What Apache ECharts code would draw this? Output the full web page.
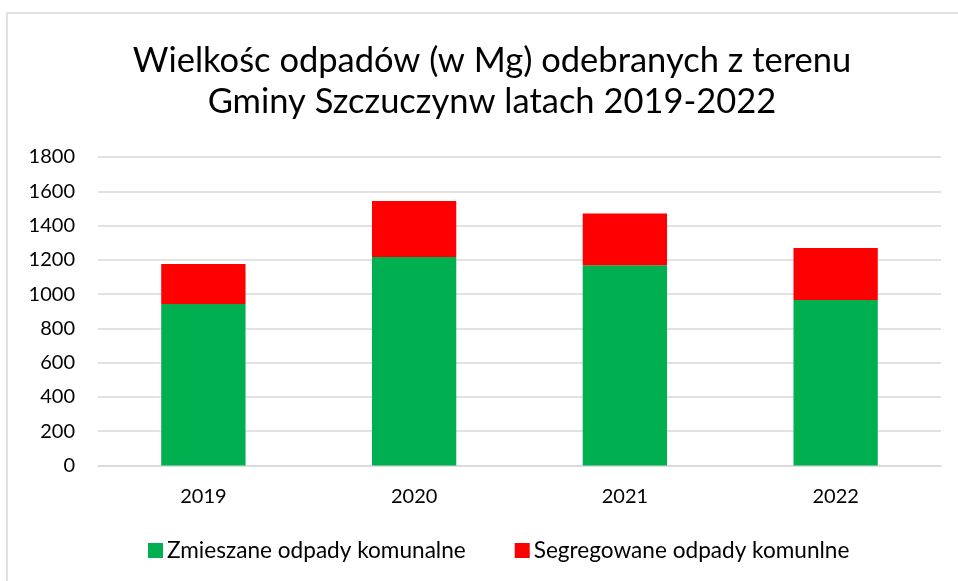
<!DOCTYPE html>
<html>
<head>
<meta charset="utf-8">
<script src="https://cdn.jsdelivr.net/npm/echarts@6/dist/echarts.min.js"></script>
<style>html,body{margin:0;padding:0;background:#fff}#c{width:958px;height:581px}</style>
</head>
<body>
<div id="c"></div>
<script>
const titleText = 'Wielkośc odpadów (w Mg) odebranych z terenu\nGminy Szczuczynw latach 2019-2022';
const categories = ['2019', '2020', '2021', '2022'];
const seriesNames = ['Zmieszane odpady komunalne', 'Segregowane odpady komunlne'];
const mixedWaste = [943, 1216, 1168, 965];
const segregatedWaste = [232, 328, 302, 304];
const yTicks = { min: 0, max: 1800, interval: 200 };

const FONT = 'Lato';
const chart = echarts.init(document.getElementById('c'), null, { renderer: 'canvas' });
chart.setOption({
  backgroundColor: '#fff',
  animation: false,
  textStyle: { fontFamily: FONT },
  graphic: [{
    type: 'rect',
    shape: { x: 7, y: 13, width: 1000, height: 1000 },
    style: { fill: 'none', stroke: '#d9d9d9', lineWidth: 1.5 },
    silent: true
  }],
  title: {
    text: titleText,
    left: 487,
    top: 35,
    textAlign: 'center',
    textStyle: { fontFamily: FONT, fontSize: 34.5, fontWeight: 'normal', color: '#000', lineHeight: 41 }
  },
  legend: {
    bottom: 14,
    left: 143,
    icon: 'rect',
    itemWidth: 15,
    itemHeight: 15,
    itemGap: 49,
    textStyle: { fontFamily: FONT, fontSize: 22.6, color: '#000', padding: [0, 0, 0, -1] },
    data: seriesNames
  },
  grid: { left: 98, right: 17, top: 157, bottom: 115.5, containLabel: false },
  xAxis: {
    type: 'category',
    data: categories,
    axisLine: { lineStyle: { color: '#d9d9d9', width: 1.5 } },
    axisTick: { show: false },
    axisLabel: { fontFamily: FONT, fontSize: 20, color: '#000', margin: 21 }
  },
  yAxis: {
    type: 'value',
    min: yTicks.min,
    max: yTicks.max,
    interval: yTicks.interval,
    axisLine: { show: false },
    axisTick: { show: false },
    splitLine: { lineStyle: { color: '#d9d9d9', width: 1.5 } },
    axisLabel: { fontFamily: FONT, fontSize: 20, color: '#000', margin: 23, formatter: v => String(v) }
  },
  series: [
    { name: seriesNames[0], type: 'bar', stack: 'total', barWidth: '40%', data: mixedWaste, itemStyle: { color: '#00b050' } },
    { name: seriesNames[1], type: 'bar', stack: 'total', barWidth: '40%', data: segregatedWaste, itemStyle: { color: '#ff0000' } }
  ]
});
</script>
</body>
</html>
